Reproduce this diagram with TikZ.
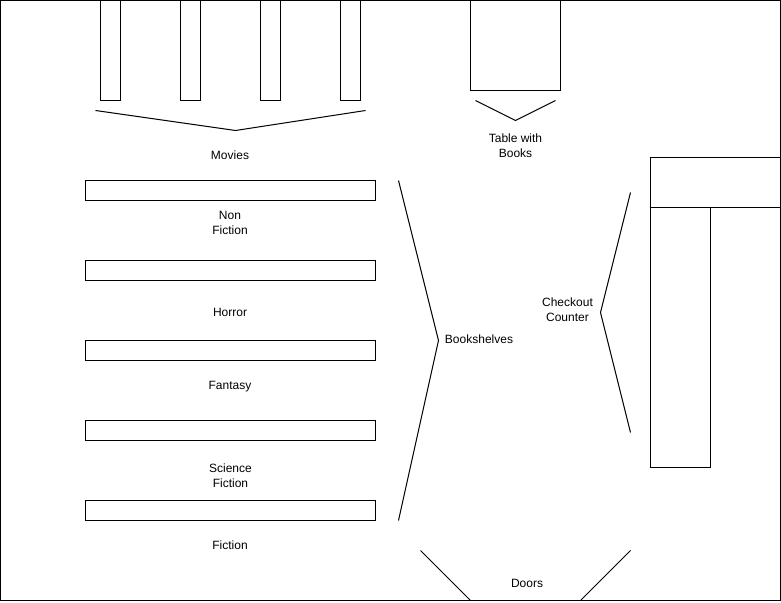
\documentclass[tikz,border=0pt]{standalone}
\usepackage{fontspec}
\setmainfont{Liberation Sans}
\tikzset{
  box/.style={draw=black,fill=white,line width=1pt,rectangle,inner sep=0pt,outer sep=0pt,anchor=north west},
  lbl/.style={font=\fontsize{12}{15}\selectfont,align=center,text=black,inner sep=0pt,anchor=center},
  brace/.style={draw=black,line width=1pt,line join=miter}
}
\newcommand{\shelf}[5]{\node[box,minimum width=#4pt,minimum height=#5pt] (#1) at (#2,#3) {};}
\begin{document}
\begin{tikzpicture}[x=1pt,y=-1pt]
\useasboundingbox (0,0) rectangle (781,602);
\begin{scope}
\clip (0,0) rectangle (781,602);
\shelf{m1}{100.5}{0.5}{20}{100}
\shelf{m2}{180.5}{0.5}{20}{100}
\shelf{m3}{260.5}{0.5}{20}{100}
\shelf{m4}{340.5}{0.5}{20}{100}
\shelf{table}{470.5}{0.5}{90}{90}
\shelf{s1}{85.5}{180.5}{290}{20}
\shelf{s2}{85.5}{260.5}{290}{20}
\shelf{s3}{85.5}{340.5}{290}{20}
\shelf{s4}{85.5}{420.5}{290}{20}
\shelf{s5}{85.5}{500.5}{290}{20}
\shelf{c1}{650.5}{207.5}{60}{260}
\shelf{c2}{650.5}{157.5}{130}{50}
\draw[brace] (95.5,110.5) -- (235.5,130.5) -- (365.5,110.5);
\draw[brace] (475.5,100.5) -- (515.5,120.5) -- (555.5,100.5);
\draw[brace] (398.5,180.5) -- (438.5,340.5) -- (398.5,520.5);
\draw[brace] (630.5,192.5) -- (600.5,312.5) -- (630.5,432.5);
\draw[brace] (420.5,550.5) -- (470.5,600.5);
\draw[brace] (630.5,550.5) -- (580.5,600.5);
\draw[line width=1pt] (0.5,0.5) rectangle (780.5,600.5);
\end{scope}
\node[lbl] (movies) at (230,155) {Movies};
\node[lbl] (tablelbl) at (515.5,146) {Table with\\Books};
\node[lbl] (nonfic) at (230,223) {Non\\Fiction};
\node[lbl] (horror) at (230,312) {Horror};
\node[lbl] (fantasy) at (230,387) {Fantasy};
\node[lbl] (scifi) at (230.5,476) {Science\\Fiction};
\node[lbl] (fiction) at (230,545) {Fiction};
\node[lbl] (bookshelves) at (479,339) {Bookshelves};
\node[lbl] (checkout) at (567.5,310) {Checkout\\Counter};
\node[lbl] (doors) at (527,583) {Doors};
\end{tikzpicture}
\end{document}
